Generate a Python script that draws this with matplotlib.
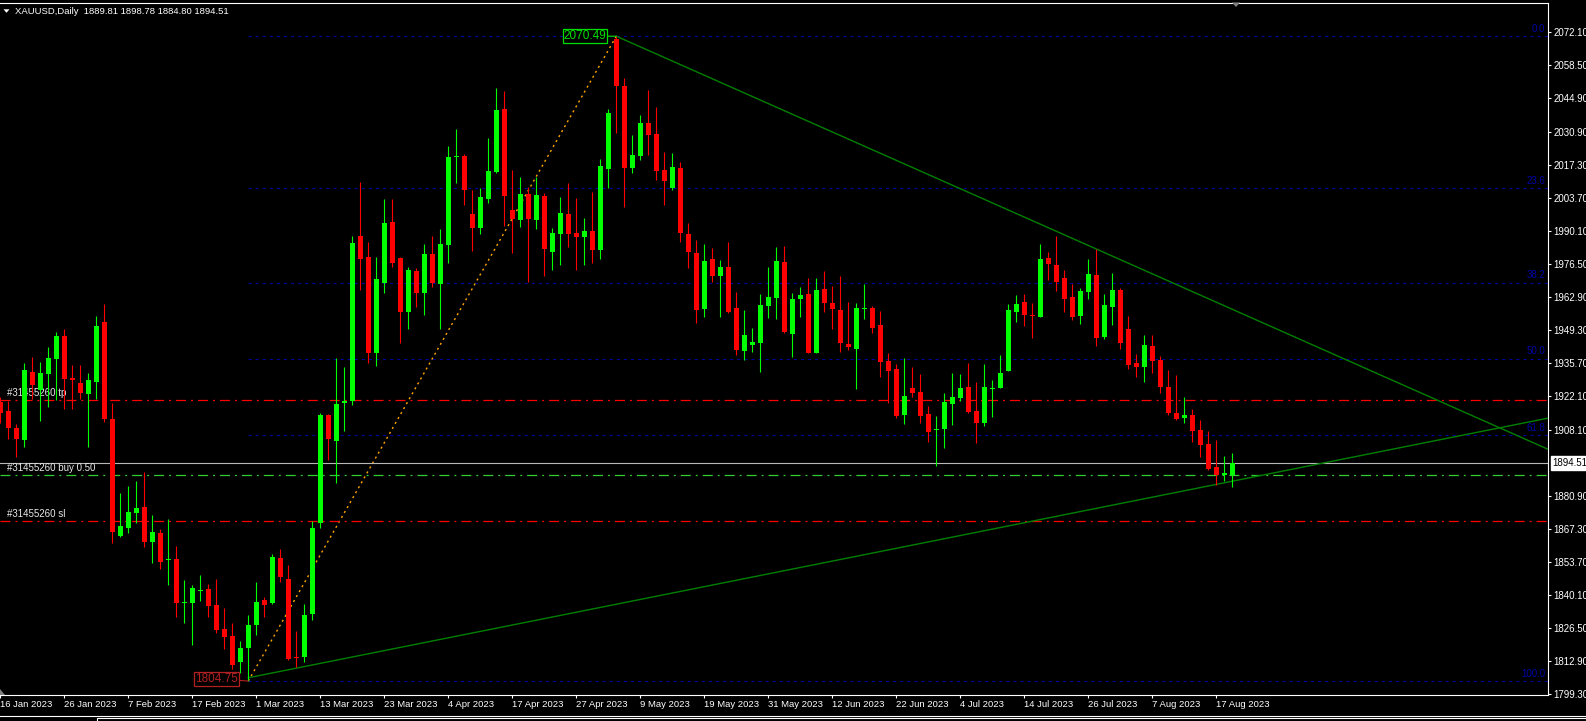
import numpy as np
import pandas as pd
import matplotlib
matplotlib.use("Agg")
import matplotlib.pyplot as plt
from matplotlib.patches import Polygon, Rectangle
import matplotlib.transforms as mtransforms

plt.rcParams["font.family"] = ["Liberation Sans", "DejaVu Sans"]
plt.rcParams["lines.scale_dashes"] = False

# XAUUSD daily bars, 16 Jan 2023 .. 21 Aug 2023 (7 Apr closed)
opens = [
    1919.9, 1916.0, 1908.9, 1904.1, 1932.1, 1924.7, 1931.3, 1937.5, 1946.9, 1929.5,
    1927.4, 1923.0, 1928.1, 1952.7, 1912.7, 1864.5, 1868.0, 1874.1, 1876.5, 1862.2,
    1865.6, 1854.5, 1854.9, 1836.9, 1837.0, 1841.7, 1842.5, 1835.9, 1826.1, 1823.3,
    1812.7, 1818.2, 1827.7, 1838.1, 1836.8, 1855.3, 1846.7, 1814.5, 1814.8, 1832.5,
    1870.0, 1914.4, 1903.8, 1919.2, 1920.3, 1988.1, 1979.3, 1939.8, 1968.9, 1993.8,
    1978.9, 1957.0, 1973.9, 1964.8, 1980.7, 1968.4, 1984.4, 2020.6, 2021.1, 1997.2,
    1991.6, 2003.4, 2014.7, 2040.3, 1998.9, 1994.7, 2005.5, 1994.7, 2004.6, 1981.7,
    1989.0, 1997.2, 1989.3, 1987.6, 1990.2, 1982.4, 2015.8, 2069.5, 2050.0, 2016.3,
    2021.3, 2034.6, 2030.2, 2015.4, 2008.1, 2016.0, 1989.0, 1981.0, 1958.2, 1978.5,
    1971.7, 1975.2, 1958.3, 1940.9, 1943.4, 1944.2, 1959.1, 1962.7, 1977.3, 1947.9,
    1962.0, 1964.1, 1940.1, 1966.2, 1960.4, 1957.6, 1943.6, 1941.6, 1957.9, 1958.3,
    1951.5, 1936.6, 1933.3, 1914.4, 1925.4, 1924.0, 1914.8, 1908.1, 1908.6, 1919.1,
    1921.5, 1925.8, 1915.9, 1911.2, 1925.2, 1925.6, 1932.7, 1957.0, 1960.8, 1955.3,
    1954.9, 1979.0, 1976.2, 1970.7, 1962.9, 1955.2, 1965.2, 1972.1, 1946.7, 1959.0,
    1965.9, 1949.7, 1935.7, 1934.3, 1942.8, 1937.1, 1925.8, 1915.1, 1913.0, 1914.4,
    1908.2, 1902.4, 1893.1, 1889.7, 1889.81,
]
highs = [
    1921.9, 1920.3, 1910.5, 1935.7, 1938.2, 1936.2, 1942.5, 1948.6, 1949.7, 1934.9,
    1934.9, 1931.6, 1955.2, 1960.1, 1919.2, 1882.1, 1885.1, 1887.3, 1891.0, 1873.2,
    1867.3, 1871.4, 1860.4, 1846.4, 1844.3, 1848.4, 1844.7, 1846.7, 1834.7, 1828.5,
    1821.4, 1831.9, 1845.6, 1839.5, 1857.1, 1859.0, 1852.4, 1825.5, 1836.5, 1870.5,
    1915.3, 1914.8, 1937.7, 1934.0, 1988.1, 2010.4, 1985.7, 1979.3, 2003.6, 2003.3,
    1979.6, 1975.5, 1974.8, 1984.9, 1988.2, 1990.9, 2025.2, 2032.3, 2022.0, 2007.1,
    2007.8, 2028.4, 2049.0, 2047.9, 2015.3, 2012.6, 2008.5, 2012.6, 2005.7, 1991.3,
    2004.4, 2009.9, 2003.7, 1995.4, 2006.1, 2019.8, 2040.6, 2070.49, 2053.1, 2029.8,
    2038.0, 2048.3, 2041.2, 2022.6, 2022.2, 2018.5, 1993.4, 1986.5, 1984.9, 1983.0,
    1978.3, 1985.7, 1965.2, 1957.6, 1950.1, 1964.2, 1975.2, 1983.5, 1984.1, 1964.5,
    1967.0, 1970.7, 1970.7, 1973.9, 1967.5, 1971.7, 1961.1, 1960.7, 1968.4, 1959.3,
    1957.2, 1940.1, 1935.4, 1937.7, 1934.0, 1931.3, 1918.1, 1914.0, 1923.3, 1931.6,
    1931.3, 1935.7, 1928.1, 1935.4, 1928.8, 1939.1, 1960.1, 1963.8, 1964.3, 1960.4,
    1984.9, 1981.7, 1988.2, 1974.2, 1968.4, 1966.6, 1978.5, 1982.7, 1964.3, 1972.8,
    1966.6, 1955.2, 1939.5, 1947.4, 1947.4, 1938.7, 1932.9, 1930.9, 1921.7, 1916.7,
    1912.3, 1907.9, 1904.1, 1897.5, 1898.78,
]
lows = [
    1911.0, 1904.4, 1897.2, 1901.4, 1921.1, 1912.0, 1917.5, 1920.6, 1917.0, 1917.0,
    1921.1, 1901.3, 1921.1, 1911.6, 1861.8, 1864.0, 1865.6, 1869.7, 1859.8, 1853.5,
    1851.1, 1844.2, 1831.0, 1828.5, 1819.6, 1837.9, 1831.0, 1824.4, 1818.1, 1809.6,
    1808.2, 1804.75, 1823.7, 1831.0, 1836.5, 1845.7, 1813.4, 1810.4, 1812.7, 1830.0,
    1868.0, 1895.8, 1886.2, 1907.9, 1918.6, 1965.9, 1936.0, 1934.6, 1964.8, 1975.5,
    1944.2, 1949.7, 1958.8, 1955.6, 1967.3, 1949.8, 1977.2, 2010.1, 2000.9, 1981.9,
    1989.0, 2001.6, 2014.3, 1992.3, 1981.3, 1991.7, 1969.3, 1990.9, 1971.7, 1974.1,
    1976.2, 1983.5, 1974.1, 1976.2, 1977.2, 1978.5, 2008.1, 2030.6, 1999.9, 2014.2,
    2019.5, 2021.5, 2011.2, 2000.9, 2007.1, 1985.7, 1975.1, 1952.4, 1954.6, 1969.3,
    1954.6, 1956.5, 1939.1, 1937.0, 1940.5, 1932.2, 1954.2, 1953.8, 1948.0, 1938.4,
    1954.6, 1939.8, 1939.8, 1957.0, 1949.7, 1940.5, 1941.1, 1925.0, 1953.8, 1948.3,
    1930.2, 1919.5, 1913.0, 1910.5, 1921.9, 1911.2, 1903.4, 1893.4, 1900.9, 1910.3,
    1920.3, 1915.1, 1903.0, 1909.9, 1913.4, 1925.4, 1932.4, 1952.9, 1951.1, 1946.3,
    1954.6, 1970.0, 1965.6, 1957.0, 1953.5, 1951.9, 1962.2, 1942.8, 1945.6, 1951.5,
    1941.5, 1933.2, 1929.9, 1928.1, 1931.8, 1923.3, 1914.4, 1912.3, 1911.2, 1903.4,
    1897.2, 1891.7, 1885.5, 1887.3, 1884.80,
]
closes = [
    1915.1, 1909.2, 1904.6, 1932.9, 1926.7, 1931.6, 1937.7, 1946.9, 1929.2, 1928.8,
    1923.6, 1928.8, 1951.1, 1912.7, 1866.3, 1868.6, 1874.4, 1876.2, 1862.2, 1866.2,
    1854.0, 1854.8, 1836.8, 1837.2, 1842.9, 1842.1, 1835.8, 1825.8, 1823.0, 1811.3,
    1818.2, 1827.8, 1837.3, 1836.2, 1856.0, 1847.5, 1814.0, 1814.3, 1832.0, 1868.0,
    1914.4, 1904.4, 1918.9, 1920.3, 1985.1, 1978.7, 1940.1, 1970.3, 1993.4, 1977.2,
    1957.0, 1974.1, 1964.8, 1980.7, 1968.9, 1984.9, 2020.6, 2021.0, 2007.1, 1991.6,
    2004.1, 2014.9, 2040.1, 2004.8, 1995.0, 2005.5, 1995.2, 2005.0, 1982.8, 1989.3,
    1997.5, 1989.0, 1987.9, 1990.2, 1982.4, 2017.0, 2039.0, 2050.1, 2016.0, 2021.5,
    2034.6, 2029.8, 2015.1, 2010.8, 2016.5, 1989.3, 1981.7, 1957.6, 1977.8, 1971.7,
    1975.2, 1957.0, 1941.2, 1947.4, 1944.5, 1959.7, 1962.9, 1977.8, 1948.6, 1962.0,
    1963.7, 1940.1, 1965.9, 1960.7, 1957.9, 1943.9, 1942.5, 1958.3, 1958.2, 1950.4,
    1936.4, 1932.6, 1914.1, 1922.2, 1923.6, 1914.0, 1907.5, 1908.3, 1919.8, 1921.8,
    1925.4, 1915.8, 1911.2, 1925.8, 1925.5, 1931.6, 1957.7, 1960.0, 1955.6, 1955.1,
    1978.5, 1976.6, 1969.3, 1962.2, 1954.9, 1965.6, 1972.5, 1946.0, 1959.7, 1965.9,
    1944.2, 1935.0, 1934.3, 1943.2, 1936.8, 1925.8, 1915.1, 1912.7, 1914.4, 1907.9,
    1902.0, 1892.3, 1889.7, 1890.6, 1894.51,
]

dates = pd.bdate_range("2023-01-16", "2023-08-21")
dates = dates[dates != pd.Timestamp("2023-04-07")]

price_ticks = [2072.10, 2058.50, 2044.90, 2030.90, 2017.30, 2003.70, 1990.10,
               1976.50, 1962.90, 1949.30, 1935.70, 1922.10, 1908.10,
               1880.90, 1867.30, 1853.70, 1840.10, 1826.50, 1812.90, 1799.30]

# fibo anchors (bar index, price)
fib_low = (31, 1804.75)
fib_high = (77, 2070.49)
fib_levels = [0.0, 23.6, 38.2, 50.0, 61.8, 100.0]

# trend lines (two anchors each)
trend_upper = [(77, 2070.49), (132, 1990.1)]
trend_lower = [(31, 1806.1), (154, 1887.1)]

order_id = "#31455260"
order_tp = 1920.44
order_open = 1889.53
order_sl = 1870.57
bid = 1894.51

W, H = 1586, 721
fig = plt.figure(figsize=(W / 100, H / 100), dpi=100, facecolor="black")


def fig_rect(x0, y0, x1, y1):
    return [x0 / W, 1 - y1 / H, (x1 - x0) / W, (y1 - y0) / H]


def fpt(x, y):
    return (x / W, 1 - y / H)


ax = fig.add_axes(fig_rect(0, 2.5, 1547.7, 695))
ax.set_facecolor("black")
ax.set_xlim(-0.0375, 193.425)
ax.set_ylim(1798.99, 2084.38)

n = len(closes)
x = np.arange(n)
o = np.array(opens)
c = np.array(closes)
up = c >= o
colors = np.where(up, "#00ff00", "#ff0000")

ax.vlines(x, lows, highs, colors=colors, lw=0.8, zorder=4)
body_lo = np.minimum(o, c)
body_h = np.maximum(np.abs(c - o), 0.42)
ax.bar(x, body_h, bottom=body_lo, width=0.625, color=colors, lw=0, zorder=5)

# fibonacci retracement
span = fib_high[1] - fib_low[1]
blend = mtransforms.blended_transform_factory(ax.transAxes, ax.transData)
for lvl in fib_levels:
    p = fib_high[1] - span * lvl / 100.0
    ax.hlines(p, fib_low[0], 400, colors="#0000a0", lw=0.8,
              linestyles=(0, (2.2, 2.9)), zorder=1)
    ax.text(0.9985, p + 0.9, f"{lvl:.1f}", transform=blend, ha="right",
            va="bottom", color="#0000a8", fontsize=7)
ax.plot([fib_low[0], fib_high[0]], [fib_low[1], fib_high[1]], color="#ffa500",
        lw=1.0, ls=(0, (1.5, 2.6)), zorder=2)

ax.annotate(f"{fib_low[1]:.2f}", xy=fib_low, xytext=(-10, 2),
            textcoords="offset pixels", ha="right", va="center",
            color="#b22020", fontsize=8.5,
            bbox=dict(boxstyle="square,pad=0.08", fc="black", ec="#b22020", lw=0.9),
            arrowprops=dict(arrowstyle="-", color="#b22020", lw=0.8,
                            shrinkA=0, shrinkB=0), zorder=6)
ax.annotate(f"{fib_high[1]:.2f}", xy=fib_high, xytext=(-10, 0),
            textcoords="offset pixels", ha="right", va="center",
            color="#00e000", fontsize=8.5,
            bbox=dict(boxstyle="square,pad=0.08", fc="black", ec="#00e000", lw=0.9),
            arrowprops=dict(arrowstyle="-", color="#00e000", lw=0.8,
                            shrinkA=0, shrinkB=0), zorder=6)

# trend lines drawn as rays to the right
for (x1, y1), (x2, y2) in (trend_upper, trend_lower):
    k = (y2 - y1) / (x2 - x1)
    ax.plot([x1, 400], [y1, y1 + k * (400 - x1)], color="#008000", lw=1.0, zorder=3)

# order lines
ax.axhline(bid, color="#b8b8b8", lw=0.8, zorder=2)
ax.axhline(order_tp, color="#ff0000", lw=0.9, ls=(0, (7.2, 3.6, 1.4, 3.6)), zorder=2)
ax.axhline(order_sl, color="#ff0000", lw=0.9, ls=(0, (7.2, 3.6, 1.4, 3.6)), zorder=2)
ax.axhline(order_open, color="#33cc33", lw=0.9, ls=(0, (7.2, 3.6, 1.4, 3.6)), zorder=2)
for label, p in ((f"{order_id} tp", order_tp), (f"{order_id} buy 0.50", order_open),
                 (f"{order_id} sl", order_sl)):
    ax.annotate(label, xy=(0.0043, p), xycoords=("axes fraction", "data"),
                xytext=(0, 2), textcoords="offset pixels", ha="left", va="bottom",
                color="#e8e8e8", fontsize=7, zorder=2)

# axes look
ax.spines["left"].set_visible(False)
for s in ("right", "bottom", "top"):
    ax.spines[s].set_color("white")
    ax.spines[s].set_linewidth(0.8)

ax.yaxis.tick_right()
ax.set_yticks(price_ticks)
ax.set_yticklabels([f"{p:.2f}" for p in price_ticks])
ax.tick_params(axis="y", colors="white", length=2.2, width=0.8, pad=1.8, labelsize=7)

tick_idx = list(range(0, n, 8))
ax.set_xticks(tick_idx)
ax.set_xticklabels([f"{dates[i].day} {dates[i]:%b %Y}" for i in tick_idx])
ax.tick_params(axis="x", colors="white", length=2.2, width=0.8, pad=1.5, labelsize=6.8)
for lab in ax.get_xticklabels():
    lab.set_horizontalalignment("left")

ax.annotate(f"{bid:.2f}", xy=(1, bid), xycoords=("axes fraction", "data"),
            xytext=(5, 0), textcoords="offset pixels", ha="left", va="center",
            color="black", fontsize=7, annotation_clip=False,
            bbox=dict(boxstyle="square,pad=0.22", fc="white", ec="white"))

# header
fig.text(15 / W, 1 - 11 / H,
         f"XAUUSD,Daily  {opens[-1]:.2f} {highs[-1]:.2f} {lows[-1]:.2f} {closes[-1]:.2f}",
         color="white", fontsize=6.8, va="center", ha="left")
fig.add_artist(Polygon([fpt(3.5, 9.3), fpt(9.5, 9.3), fpt(6.5, 12.8)], closed=True,
                       transform=fig.transFigure, fc="white", ec="none"))
fig.add_artist(Polygon([fpt(1232, 2.5), fpt(1240, 2.5), fpt(1236, 7)], closed=True,
                       transform=fig.transFigure, fc="#808080", ec="none"))
fig.add_artist(Polygon([fpt(0, 689), fpt(0, 695), fpt(5, 695)], closed=True,
                       transform=fig.transFigure, fc="#808080", ec="none"))

# bottom tab bar
fig.add_artist(plt.Line2D([0, 1], [1 - 716 / H, 1 - 716 / H], transform=fig.transFigure,
                          color="white", lw=0.8))
fig.add_artist(Rectangle(fpt(97, 721.5), (W - 97) / W, 3.5 / H, transform=fig.transFigure,
                         fc="black", ec="white", lw=0.8))

fig.savefig("out.png", dpi=100, facecolor="black")
